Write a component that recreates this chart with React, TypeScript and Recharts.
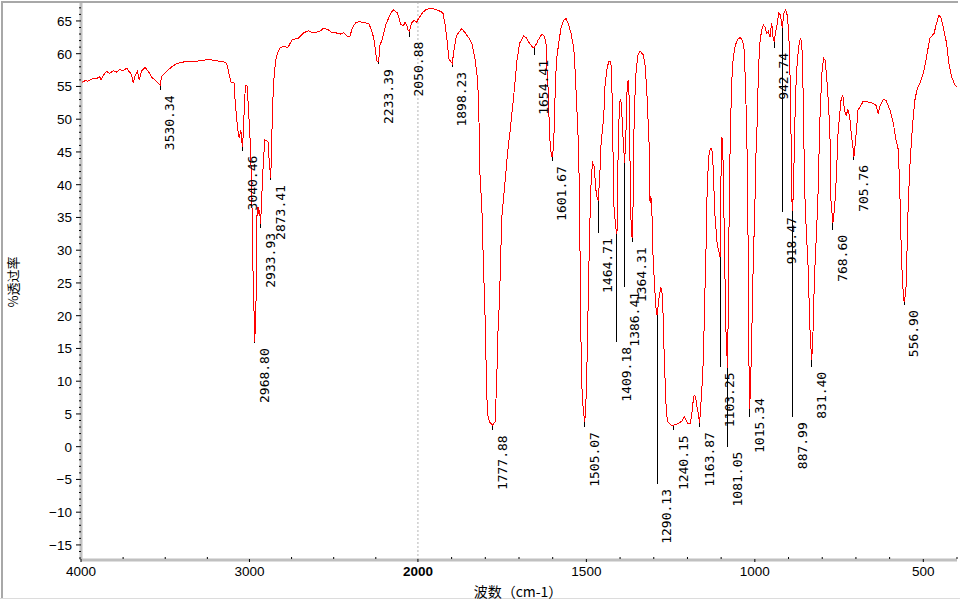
import React from 'react';
import {
  ComposedChart,
  Line,
  Scatter,
  XAxis,
  YAxis,
  ReferenceLine,
} from 'recharts';

// IR spectrum: [wavenumber cm-1, transmittance %]
const spectrumHigh: [number, number][] = [
  [4000, 55.5], [3996, 55.6], [3975, 55.9], [3960, 55.8], [3947, 56.0], [3930, 56.2],
  [3907, 56.2], [3890, 56.5], [3880, 56.0], [3868, 56.7], [3848, 57.3], [3830, 57.0],
  [3808, 57.4], [3790, 57.2], [3769, 57.6], [3750, 57.4], [3729, 57.8], [3715, 57.3],
  [3700, 56.8], [3690, 55.6], [3680, 56.5], [3665, 57.3], [3654, 56.0], [3640, 57.4],
  [3620, 57.9], [3600, 57.3], [3580, 56.4], [3561, 56.0], [3530.34, 55.2], [3521, 56.5],
  [3491, 57.3], [3462, 58.0], [3432, 58.5], [3400, 58.7], [3373, 58.8], [3323, 58.8],
  [3284, 59.0], [3234, 59.1], [3195, 58.9], [3155, 58.8], [3136, 58.5], [3126, 57.5],
  [3111, 55.7], [3091, 55.5], [3087, 53.4], [3077, 50.4], [3067, 47.9], [3061, 47.1],
  [3051, 48.4], [3047, 46.8], [3040.46, 45.8], [3031, 51.4], [3024, 55.2], [3012, 55.0],
  [3008, 52.4], [2998, 47.9], [2988, 41.2], [2984, 35.1], [2978, 25.4], [2972, 19.8],
  [2968.8, 16.0], [2963, 19.8], [2959, 24.9], [2955, 35.6], [2949, 36.6], [2945, 35.5],
  [2940, 36.2], [2933.93, 34.0], [2926, 38.7], [2917, 43.8], [2908, 46.8], [2890, 46.6],
  [2882, 43.3], [2873.41, 41.0], [2869, 45.8], [2862, 52.4], [2855, 56.0], [2845, 59.0],
  [2830, 60.3], [2817, 60.9], [2800, 61.1], [2787, 61.1], [2773, 60.9], [2747, 62.1],
  [2708, 62.4], [2678, 63.2], [2648, 63.5], [2628, 63.2], [2608, 63.2], [2579, 63.5],
  [2559, 63.9], [2529, 63.6], [2509, 63.2], [2489, 63.2], [2459, 63.0], [2440, 63.2],
  [2420, 62.7], [2404, 62.6], [2390, 63.9], [2370, 64.7], [2350, 64.9], [2310, 64.7],
  [2291, 64.6], [2270, 63.2], [2257, 61.6], [2245, 58.9], [2233.39, 58.8], [2225, 61.3],
  [2211, 62.3], [2191, 64.4], [2161, 66.2], [2145, 66.7], [2121, 66.2], [2102, 64.5],
  [2086, 64.3], [2076, 64.8], [2066, 64.3], [2058, 63.6], [2050.88, 63.4], [2038, 64.7],
  [2022, 65.1], [2006, 64.8], [2000, 65.2],
];

const spectrumLow: [number, number][] = [
  [1986, 66.3], [1974, 66.8], [1959, 66.9], [1945, 66.7], [1930, 66.4], [1925, 66.1],
  [1918, 64.0], [1912, 61.3], [1908, 59.2], [1898.23, 58.5], [1892, 60.9], [1886, 62.6],
  [1880, 63.2], [1870, 63.8], [1860, 63.2], [1850, 62.5], [1840, 61.6], [1830, 59.0],
  [1825, 57.0], [1822, 55.0], [1819, 50.4], [1816, 41.8], [1810, 36.1], [1806, 28.5],
  [1801, 20.3], [1798, 13.5], [1794, 5.1], [1788, 3.8], [1777.88, 3.3], [1771, 3.8],
  [1766, 10.2], [1763, 16.8], [1758, 22.4], [1751, 35.1], [1741, 40.7], [1734, 44.8],
  [1726, 48.4], [1716, 53.4], [1706, 59.0], [1698, 61.6], [1686, 62.7], [1678, 62.4],
  [1669, 61.6], [1660, 61.0], [1654.41, 61.0], [1648, 61.5], [1643, 62.1], [1632, 63.0],
  [1625, 62.7], [1620, 61.7], [1617, 57.5], [1612, 53.4], [1610, 47.9], [1605, 45.0],
  [1601.67, 44.2], [1597, 46.0], [1594, 51.9], [1589, 59.0], [1582, 61.6], [1575, 64.1],
  [1567, 65.1], [1560, 65.4], [1552, 64.3], [1545, 63.0], [1537, 60.6], [1533, 57.0],
  [1528, 51.4], [1523, 45.3], [1520, 36.1], [1518, 24.4], [1515, 12.2], [1512, 7.1],
  [1505.07, 3.8], [1502, 5.6], [1498, 13.2], [1493, 26.5], [1488, 37.6], [1485, 41.7],
  [1481, 43.3], [1476, 42.7], [1473, 39.7], [1469, 38.2], [1464.71, 37.5], [1460, 41.7],
  [1456, 46.8], [1453, 47.9], [1448, 50.9], [1445, 55.0], [1438, 58.0], [1433, 58.8],
  [1428, 58.8], [1425, 57.5], [1422, 47.9], [1418, 36.6], [1413, 33.5], [1409.18, 32.5],
  [1406, 44.2], [1403, 50.4], [1400, 53.0], [1396, 52.5], [1393, 48.8], [1386.41, 43.3],
  [1382, 48.8], [1379, 55.0], [1376, 56.0], [1374, 55.5], [1371, 45.3], [1368, 35.1],
  [1364.31, 31.8], [1361, 37.6], [1359, 47.9], [1354, 56.5], [1347, 59.8], [1341, 60.3],
  [1339, 60.3], [1331, 59.8], [1326, 58.3], [1322, 55.5], [1319, 52.4], [1314, 46.3],
  [1312, 40.0], [1311, 37.2], [1309, 38.2], [1306, 37.2], [1303, 30.0], [1299, 26.0],
  [1294, 21.4], [1290.13, 20.1], [1284, 22.9], [1279, 24.2], [1276, 24.0], [1272, 19.8],
  [1269, 13.7], [1266, 9.7], [1263, 5.6], [1259, 3.8], [1249, 3.3], [1240.15, 3.3],
  [1225, 3.6], [1215, 4.0], [1210, 4.6], [1205, 4.1], [1200, 3.6], [1192, 3.6],
  [1188, 4.6], [1184, 6.6], [1180, 7.9], [1176, 7.7], [1172, 6.1], [1168, 5.1],
  [1163.87, 3.6], [1155, 10.7], [1152, 14.8], [1150, 19.8], [1147, 26.0], [1145, 30.0],
  [1142, 38.0], [1139, 42.0], [1136, 44.5], [1132, 45.6], [1128, 45.6], [1125, 44.2],
  [1122, 40.0], [1118, 35.0], [1112, 31.0], [1103.25, 29.0], [1101, 40.0], [1098, 47.3],
  [1096, 46.5], [1094, 43.0], [1090, 30.0], [1086, 18.0], [1081.05, 12.0], [1078, 25.0],
  [1076, 37.6], [1073, 46.8], [1069, 55.5], [1064, 59.5], [1058, 61.3], [1051, 62.2],
  [1043, 62.5], [1036, 61.9], [1031, 60.3], [1026, 51.9], [1023, 44.8], [1021, 37.6],
  [1019, 22.4], [1017, 10.4], [1015.34, 5.8], [1012, 10.7], [1009, 17.3], [1005, 27.5],
  [1000, 36.6], [997, 44.2], [994, 47.9], [992, 51.9], [989, 58.0], [985, 61.6],
  [980, 63.6], [975, 64.4], [970, 64.1], [965, 63.1], [960, 63.4], [955, 62.6],
  [950, 64.7], [946, 62.5], [942.74, 61.8], [939, 63.1], [934, 64.4], [929, 66.2],
  [924, 65.9], [918.47, 63.9], [914, 66.2], [909, 66.7], [904, 65.9], [900, 63.6],
  [897, 60.0], [894, 52.9], [892, 45.3], [890, 37.6], [887.99, 36.0], [885, 40.0],
  [882, 47.9], [879, 54.0], [875, 58.0], [870, 61.1], [865, 62.3], [861, 61.9],
  [858, 58.0], [855, 47.9], [851, 37.6], [847, 32.6], [842, 27.5], [839, 22.4],
  [836, 17.3], [831.4, 13.2], [828, 16.3], [823, 26.0], [818, 31.6], [813, 37.6],
  [810, 43.8], [806, 51.4], [801, 57.0], [796, 59.3], [791, 59.0], [786, 55.8],
  [781, 51.9], [777, 47.3], [774, 37.6], [768.6, 34.1], [763, 36.6], [758, 41.2],
  [753, 47.9], [748, 50.9], [744, 53.0], [739, 53.7], [734, 51.4], [729, 50.6],
  [724, 51.4], [719, 50.6], [714, 47.9], [709, 45.8], [705.76, 44.3], [699, 47.9],
  [694, 51.4], [687, 51.9], [679, 52.7], [669, 52.7], [654, 52.5], [641, 52.2],
  [634, 50.9], [629, 51.9], [619, 53.0], [611, 52.9], [599, 51.4], [589, 49.4],
  [581, 46.8], [574, 45.3], [569, 37.6], [565, 29.0], [561, 24.5], [556.9, 22.1],
  [552, 23.4], [550, 26.5], [547, 32.6], [545, 36.6], [540, 42.7], [535, 46.8],
  [530, 50.3], [525, 52.9], [518, 54.7], [510, 55.5], [500, 57.0], [491, 59.3],
  [481, 62.3], [468, 63.1], [461, 64.6], [454, 65.8], [449, 65.7], [441, 64.1],
  [431, 61.6], [424, 58.5], [416, 56.5], [406, 55.2], [400, 55.0],
];

// picked peaks
const peakWavenumbers = [
  3530.34, 3040.46, 2968.8, 2933.93, 2873.41, 2233.39, 2050.88, 1898.23, 1777.88, 1654.41,
  1601.67, 1505.07, 1464.71, 1409.18, 1386.41, 1364.31, 1290.13, 1240.15, 1163.87, 1103.25,
  1081.05, 1015.34, 942.74, 918.47, 887.99, 831.4, 768.6, 705.76, 556.9,
];
const peakTransmittance = [
  55.2, 45.8, 16.0, 34.0, 41.0, 58.8, 63.4, 58.5, 3.3, 61.0,
  44.2, 3.8, 37.5, 32.5, 43.3, 31.8, 20.1, 3.3, 3.6, 29.0,
  12.0, 5.8, 61.8, 63.9, 36.0, 13.2, 34.1, 44.3, 22.1,
];
// where each marker line stops (label text starts just below it)
const labelLineEnds = [
  54.4, 45.2, 15.8, 33.4, 40.7, 58.4, 62.6, 58.0, 2.5, 59.8,
  43.6, 3.0, 32.6, 16.0, 24.4, 31.2, -5.7, 2.5, 3.0, 12.1,
  0.0, 4.5, 60.9, 35.8, 4.5, 12.2, 33.1, 43.8, 21.6,
];
const labelNudge: Record<string, number> = { '1015.34': -24 };

const xMajorTicks = [4000, 3000, 2000, 1500, 1000, 500];
const xMinorTicks = [3750, 3500, 3250, 2750, 2500, 2250, 1900, 1800, 1700, 1600, 1400, 1300,
  1200, 1100, 900, 800, 700, 600, 400];
const yMajorTicks = [-15, -10, -5, 0, 5, 10, 15, 20, 25, 30, 35, 40, 45, 50, 55, 60, 65];

// the instrument doubles the x scale below 2000 cm-1
const toU = (wn: number) => (wn >= 2000 ? 4000 - wn : 2000 + (2000 - wn) * 2);
const fromU = (u: number) => (u <= 2000 ? 4000 - u : 2000 - (u - 2000) / 2);

const chartData = [...spectrumHigh, ...spectrumLow].map(([wn, t]) => ({ u: toU(wn), t }));
const peakData = peakWavenumbers.map((wn, i) => ({
  u: toU(wn),
  t: labelLineEnds[i],
  label: wn.toFixed(2),
}));

const yTicks: number[] = [];
for (let v = -17; v <= 67; v++) yTicks.push(v);
const xTicks = [...xMajorTicks, ...xMinorTicks].map(toU).sort((a, b) => a - b);

const TICK_FONT = '"Liberation Sans", Arial, sans-serif';

const XTick = (props: any) => {
  const { x, y, payload } = props;
  const wn = Math.round(fromU(payload.value));
  if (!xMajorTicks.includes(wn)) {
    return <line x1={x} x2={x} y1={y - 3} y2={y - 1} stroke="#000" />;
  }
  return (
    <g>
      <line x1={x} x2={x} y1={y - 1} y2={y + 2} stroke="#000" />
      <text
        x={x}
        y={y + 16}
        textAnchor="middle"
        fontSize={13.5}
        fontFamily={TICK_FONT}
        fontWeight={wn === 2000 ? 'bold' : 'normal'}
        fill="#000"
      >
        {wn}
      </text>
    </g>
  );
};

const YTick = (props: any) => {
  const { x, y, payload } = props;
  const v = payload.value;
  if (!yMajorTicks.includes(v)) {
    return <line x1={x - 2} x2={x} y1={y} y2={y} stroke="#000" />;
  }
  return (
    <g>
      <line x1={x - 5} x2={x} y1={y} y2={y} stroke="#000" />
      <text
        x={x - 9}
        y={y + 5}
        textAnchor="end"
        fontSize={13.5}
        fontFamily={TICK_FONT}
        fill="#000"
      >
        {v < 0 ? `\u2212${Math.abs(v)}` : v}
      </text>
    </g>
  );
};

const PeakLabel = (props: any) => {
  const { cx, cy, payload } = props;
  if (cx == null || cy == null) return null;
  const tx = cx + 14;
  const ty = cy + 5 + (labelNudge[payload.label] || 0);
  return (
    <text
      x={tx}
      y={ty}
      transform={`rotate(-90 ${tx} ${ty})`}
      textAnchor="end"
      fontSize={13}
      fontFamily='"DejaVu Sans Mono", monospace'
      fill="#000"
    >
      {payload.label}
    </text>
  );
};

export default function App() {
  return (
    <div
      style={{
        position: 'absolute',
        left: 0,
        top: 0,
        width: 960,
        height: 600,
        background: '#fff',
        overflow: 'hidden',
      }}
    >
      <div style={{ position: 'absolute', left: 1, top: 1, width: 957, height: 2, background: '#a8a8a8' }} />
      <div style={{ position: 'absolute', left: 1, top: 1, width: 2, height: 597, background: '#a8a8a8' }} />
      <div style={{ position: 'absolute', left: 0, top: 598, width: 960, height: 1, background: '#dcdcdc' }} />

      <ComposedChart
        width={960}
        height={600}
        data={chartData}
        margin={{ top: 3, right: 3, bottom: 0, left: 0 }}
      >
        <XAxis
          dataKey="u"
          type="number"
          domain={[0, 5200]}
          allowDataOverflow
          ticks={xTicks}
          interval={0}
          tick={<XTick />}
          tickLine={false}
          tickSize={0}
          tickMargin={0}
          axisLine={{ stroke: '#c0c0c0', strokeWidth: 3 }}
          height={40}
        />
        <YAxis
          type="number"
          domain={[-17.3, 67.74]}
          allowDataOverflow
          ticks={yTicks}
          interval={0}
          tick={<YTick />}
          tickLine={false}
          tickSize={0}
          tickMargin={0}
          axisLine={{ stroke: '#c0c0c0', strokeWidth: 3 }}
          width={81}
        />
        <ReferenceLine x={toU(2000)} stroke="#b4b4b4" strokeDasharray="2 2" />
        {peakWavenumbers.map((wn, i) => (
          <ReferenceLine
            key={wn}
            segment={[
              { x: toU(wn), y: peakTransmittance[i] },
              { x: toU(wn), y: labelLineEnds[i] },
            ]}
            stroke="#000"
            strokeWidth={1}
            shapeRendering="crispEdges"
          />
        ))}
        <Line
          type="linear"
          dataKey="t"
          stroke="#ff0000"
          strokeWidth={1}
          shapeRendering="crispEdges"
          dot={false}
          isAnimationActive={false}
        />
        <Scatter
          data={peakData}
          dataKey="t"
          shape={<PeakLabel />}
          isAnimationActive={false}
        />
      </ComposedChart>

      <div
        style={{
          position: 'absolute',
          left: 12,
          top: 282,
          transform: 'translate(-50%, -50%) rotate(-90deg)',
          fontFamily: '"Noto Sans CJK SC", sans-serif',
          fontSize: 13,
          whiteSpace: 'nowrap',
          color: '#000',
        }}
      >
        %透过率
      </div>
      <div
        style={{
          position: 'absolute',
          left: 518,
          top: 591,
          transform: 'translate(-50%, -50%)',
          fontFamily: '"Noto Sans CJK SC", sans-serif',
          fontSize: 14,
          whiteSpace: 'nowrap',
          color: '#000',
        }}
      >
        波数（cm-1）
      </div>
    </div>
  );
}
